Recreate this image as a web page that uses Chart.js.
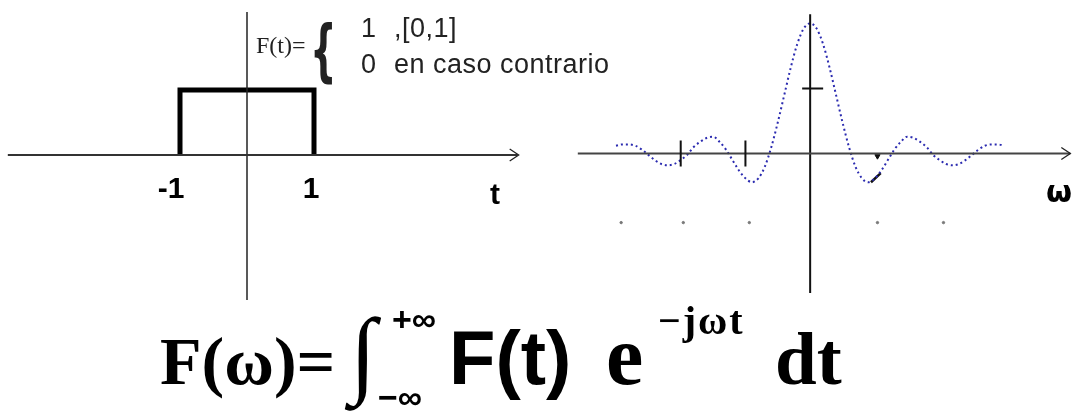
<!DOCTYPE html>
<html lang="es">
<head>
<meta charset="UTF-8">
<title>Transformada de Fourier de un pulso</title>
<script src="https://cdn.jsdelivr.net/npm/chart.js@4.4.0/dist/chart.umd.min.js"></script>
<style>
  html, body { margin: 0; padding: 0; background: #fff; }
  #wrap { position: relative; width: 1076px; height: 414px; overflow: hidden; }
  #pulse { position: absolute; left: 0; top: 0; }
  #spectrum { position: absolute; left: 560px; top: 0; }
</style>
</head>
<body>
<div id="wrap">
  <canvas id="pulse" width="1076" height="414"></canvas>
  <canvas id="spectrum" width="516" height="300"></canvas>
</div>
<script>
// rectangular pulse F(t)
const pulseT = [-1, -1, 1, 1];
const pulseF = [0, 1, 1, 0];
const pulseTicks = [-1, 1];
const pulseTickLabels = ['-1', '1'];
const tAxis = [-3.57, 4.04];
const fAxis = [-2.23, 2.2];

// its spectrum F(w)
const omega = [-15, -14.5, -14, -13.5, -13, -12.5, -12, -11.5, -11, -10.5, -10, -9.5, -9, -8.5, -8, -7.5,
  -7, -6.5, -6, -5.5, -5, -4.5, -4, -3.5, -3, -2.5, -2, -1.5, -1, -0.5, 0, 0.5, 1, 1.5, 2, 2.5, 3, 3.5,
  4, 4.5, 5, 5.5, 6, 6.5, 7, 7.5, 8, 8.5, 9, 9.5, 10, 10.5, 11, 11.5, 12, 12.5, 13, 13.5, 14, 14.5, 15];
const spectrum = [0.06, 0.07, 0.07, 0.06, 0.03, -0.01, -0.05, -0.08, -0.09, -0.08, -0.05, -0.01, 0.05, 0.09, 0.12, 0.13,
  0.09, 0.03, -0.05, -0.13, -0.19, -0.22, -0.19, -0.10, 0.05, 0.24, 0.45, 0.66, 0.84, 0.96, 1.00, 0.96, 0.84, 0.66, 0.45, 0.24, 0.05, -0.10,
  -0.19, -0.22, -0.19, -0.13, -0.05, 0.03, 0.09, 0.13, 0.12, 0.09, 0.05, -0.01, -0.05, -0.08, -0.09, -0.08, -0.05, -0.01, 0.03, 0.06, 0.07, 0.07, 0.06];
const omegaTicks = [-10, -5];
const spectrumTicks = [0.5];
const faintLabelOmega = [-14.6, -9.8, -4.7, 5.2, 10.3];
const faintLabelLevel = -0.53;
const wAxis = [-17.95, 20.1];
const sAxis = [-1.07, 1.07];

function arrowHead(ctx, px, py) {
  ctx.save();
  ctx.strokeStyle = '#222';
  ctx.lineWidth = 1.3;
  ctx.beginPath();
  ctx.moveTo(px - 9, py - 6);
  ctx.lineTo(px, py);
  ctx.lineTo(px - 9, py + 6);
  ctx.stroke();
  ctx.restore();
}

function text(ctx, s, x, y, font, align) {
  ctx.font = font;
  ctx.textAlign = align || 'left';
  ctx.textBaseline = 'alphabetic';
  ctx.fillText(s, x, y);
}

const pulseDecor = {
  id: 'pulseDecor',
  afterDatasetsDraw(chart) {
    const { ctx, scales: { x, y } } = chart;
    ctx.save();
    ctx.fillStyle = '#000';
    arrowHead(ctx, x.getPixelForValue(tAxis[1]) + 1, y.getPixelForValue(0));

    // axis labels
    const y0 = y.getPixelForValue(0);
    pulseTicks.forEach((v, i) => {
      text(ctx, pulseTickLabels[i], x.getPixelForValue(v) + (v < 0 ? -9 : -3), y0 + 43, 'bold 30px "Liberation Sans"', 'center');
    });
    text(ctx, 't', 495, y0 + 49, 'bold 30px "Liberation Sans"', 'center');

    // piecewise definition
    ctx.fillStyle = '#222';
    text(ctx, 'F(t)=', 256, 53, '24px "Liberation Serif"');
    ctx.save();
    ctx.translate(310, 74);
    ctx.scale(0.55, 1);
    text(ctx, '{', 0, 0, 'bold 68px "DejaVu Sans"');
    ctx.restore();
    ctx.letterSpacing = '0.5px';
    text(ctx, '1', 361, 37, '27px "Liberation Sans"');
    text(ctx, ',[0,1]', 394, 37, '27px "Liberation Sans"');
    text(ctx, '0', 361, 73, '27px "Liberation Sans"');
    text(ctx, 'en caso contrario', 394, 73, '27px "Liberation Sans"');
    ctx.letterSpacing = '0px';

    // Fourier integral
    ctx.fillStyle = '#000';
    text(ctx, 'F(\u03C9)=', 160, 384, 'bold 68px "Liberation Serif"');
    text(ctx, '\u222B', 350, 385, '96px "Liberation Serif"');
    text(ctx, '+\u221E', 392, 331, 'bold 34px "Liberation Sans"');
    text(ctx, '\u2212\u221E', 378, 409, 'bold 34px "Liberation Sans"');
    text(ctx, 'F(t)', 449, 384, 'bold 76px "Liberation Sans"');
    text(ctx, 'e', 606, 384, 'bold 84px "Liberation Serif"');
    ctx.letterSpacing = '2px';
    text(ctx, '\u2212j\u03C9t', 658, 334, 'bold 40px "Liberation Serif"');
    ctx.letterSpacing = '0px';
    text(ctx, 'dt', 775, 384, 'bold 75px "Liberation Serif"');
    ctx.restore();
  }
};

const spectrumDecor = {
  id: 'spectrumDecor',
  afterDatasetsDraw(chart) {
    const { ctx, scales: { x, y } } = chart;
    const x0 = x.getPixelForValue(0);
    const y0 = y.getPixelForValue(0);
    ctx.save();
    arrowHead(ctx, x.getPixelForValue(wAxis[1]), y0);
    ctx.strokeStyle = '#111';
    ctx.lineWidth = 2;
    ctx.beginPath();
    omegaTicks.forEach(v => {
      const px = x.getPixelForValue(v);
      ctx.moveTo(px, y0 - 13);
      ctx.lineTo(px, y0 + 13);
    });
    spectrumTicks.forEach(v => {
      const py = y.getPixelForValue(v);
      ctx.moveTo(x0 - 8, py);
      ctx.lineTo(x0 + 13, py);
    });
    ctx.stroke();
    ctx.fillStyle = '#000';
    text(ctx, '\u03C9', 499, 202, 'bold 30px "DejaVu Sans"', 'center');
    ctx.restore();
  }
};

const baseOptions = (xr, yr) => ({
  responsive: false,
  animation: false,
  devicePixelRatio: 1,
  layout: { padding: 0 },
  elements: { point: { radius: 0 }, line: { tension: 0, fill: false } },
  plugins: { legend: { display: false }, tooltip: { enabled: false } },
  scales: {
    x: { type: 'linear', min: xr[0], max: xr[1], display: false },
    y: { type: 'linear', min: yr[0], max: yr[1], display: false }
  }
});

new Chart(document.getElementById('pulse'), {
  type: 'line',
  data: {
    datasets: [
      { data: [{ x: tAxis[0], y: 0 }, { x: tAxis[1], y: 0 }], borderColor: '#333', borderWidth: 2 },
      { data: [{ x: 0, y: fAxis[0] }, { x: 0, y: fAxis[1] }], borderColor: '#222', borderWidth: 1.5 },
      {
        data: pulseT.map((t, i) => ({ x: t, y: pulseF[i] })),
        borderColor: '#000', borderWidth: 5, borderJoinStyle: 'miter'
      }
    ]
  },
  options: baseOptions([-247 / 67, 829 / 67], [-259 / 65, 155 / 65]),
  plugins: [pulseDecor]
});

new Chart(document.getElementById('spectrum'), {
  type: 'line',
  data: {
    datasets: [
      { data: [{ x: wAxis[0], y: 0 }, { x: wAxis[1], y: 0 }], borderColor: '#444', borderWidth: 2 },
      { data: [{ x: 0, y: sAxis[0] }, { x: 0, y: sAxis[1] }], borderColor: '#111', borderWidth: 2 },
      {
        data: omega.map((w, i) => ({ x: w, y: spectrum[i] })),
        borderColor: '#2b2bb0', borderWidth: 2, borderDash: [2, 3],
        cubicInterpolationMode: 'monotone'
      },
      {
        data: [{ x: 4.7, y: -0.22 }, { x: 5.45, y: -0.15 }],
        borderColor: '#111', borderWidth: 2.5
      },
      {
        data: [{ x: 5.2, y: -0.02 }], showLine: false,
        pointRadius: 3, pointStyle: 'triangle', rotation: 180,
        pointBackgroundColor: '#111', pointBorderColor: '#111'
      },
      {
        data: faintLabelOmega.map(w => ({ x: w, y: faintLabelLevel })), showLine: false,
        pointRadius: 1.2, pointBackgroundColor: '#777', pointBorderColor: '#777'
      }
    ]
  },
  options: baseOptions([-250 / 13.2, 266 / 13.2], [-146.3 / 134.7, 153.7 / 134.7]),
  plugins: [spectrumDecor]
});
</script>
</body>
</html>
